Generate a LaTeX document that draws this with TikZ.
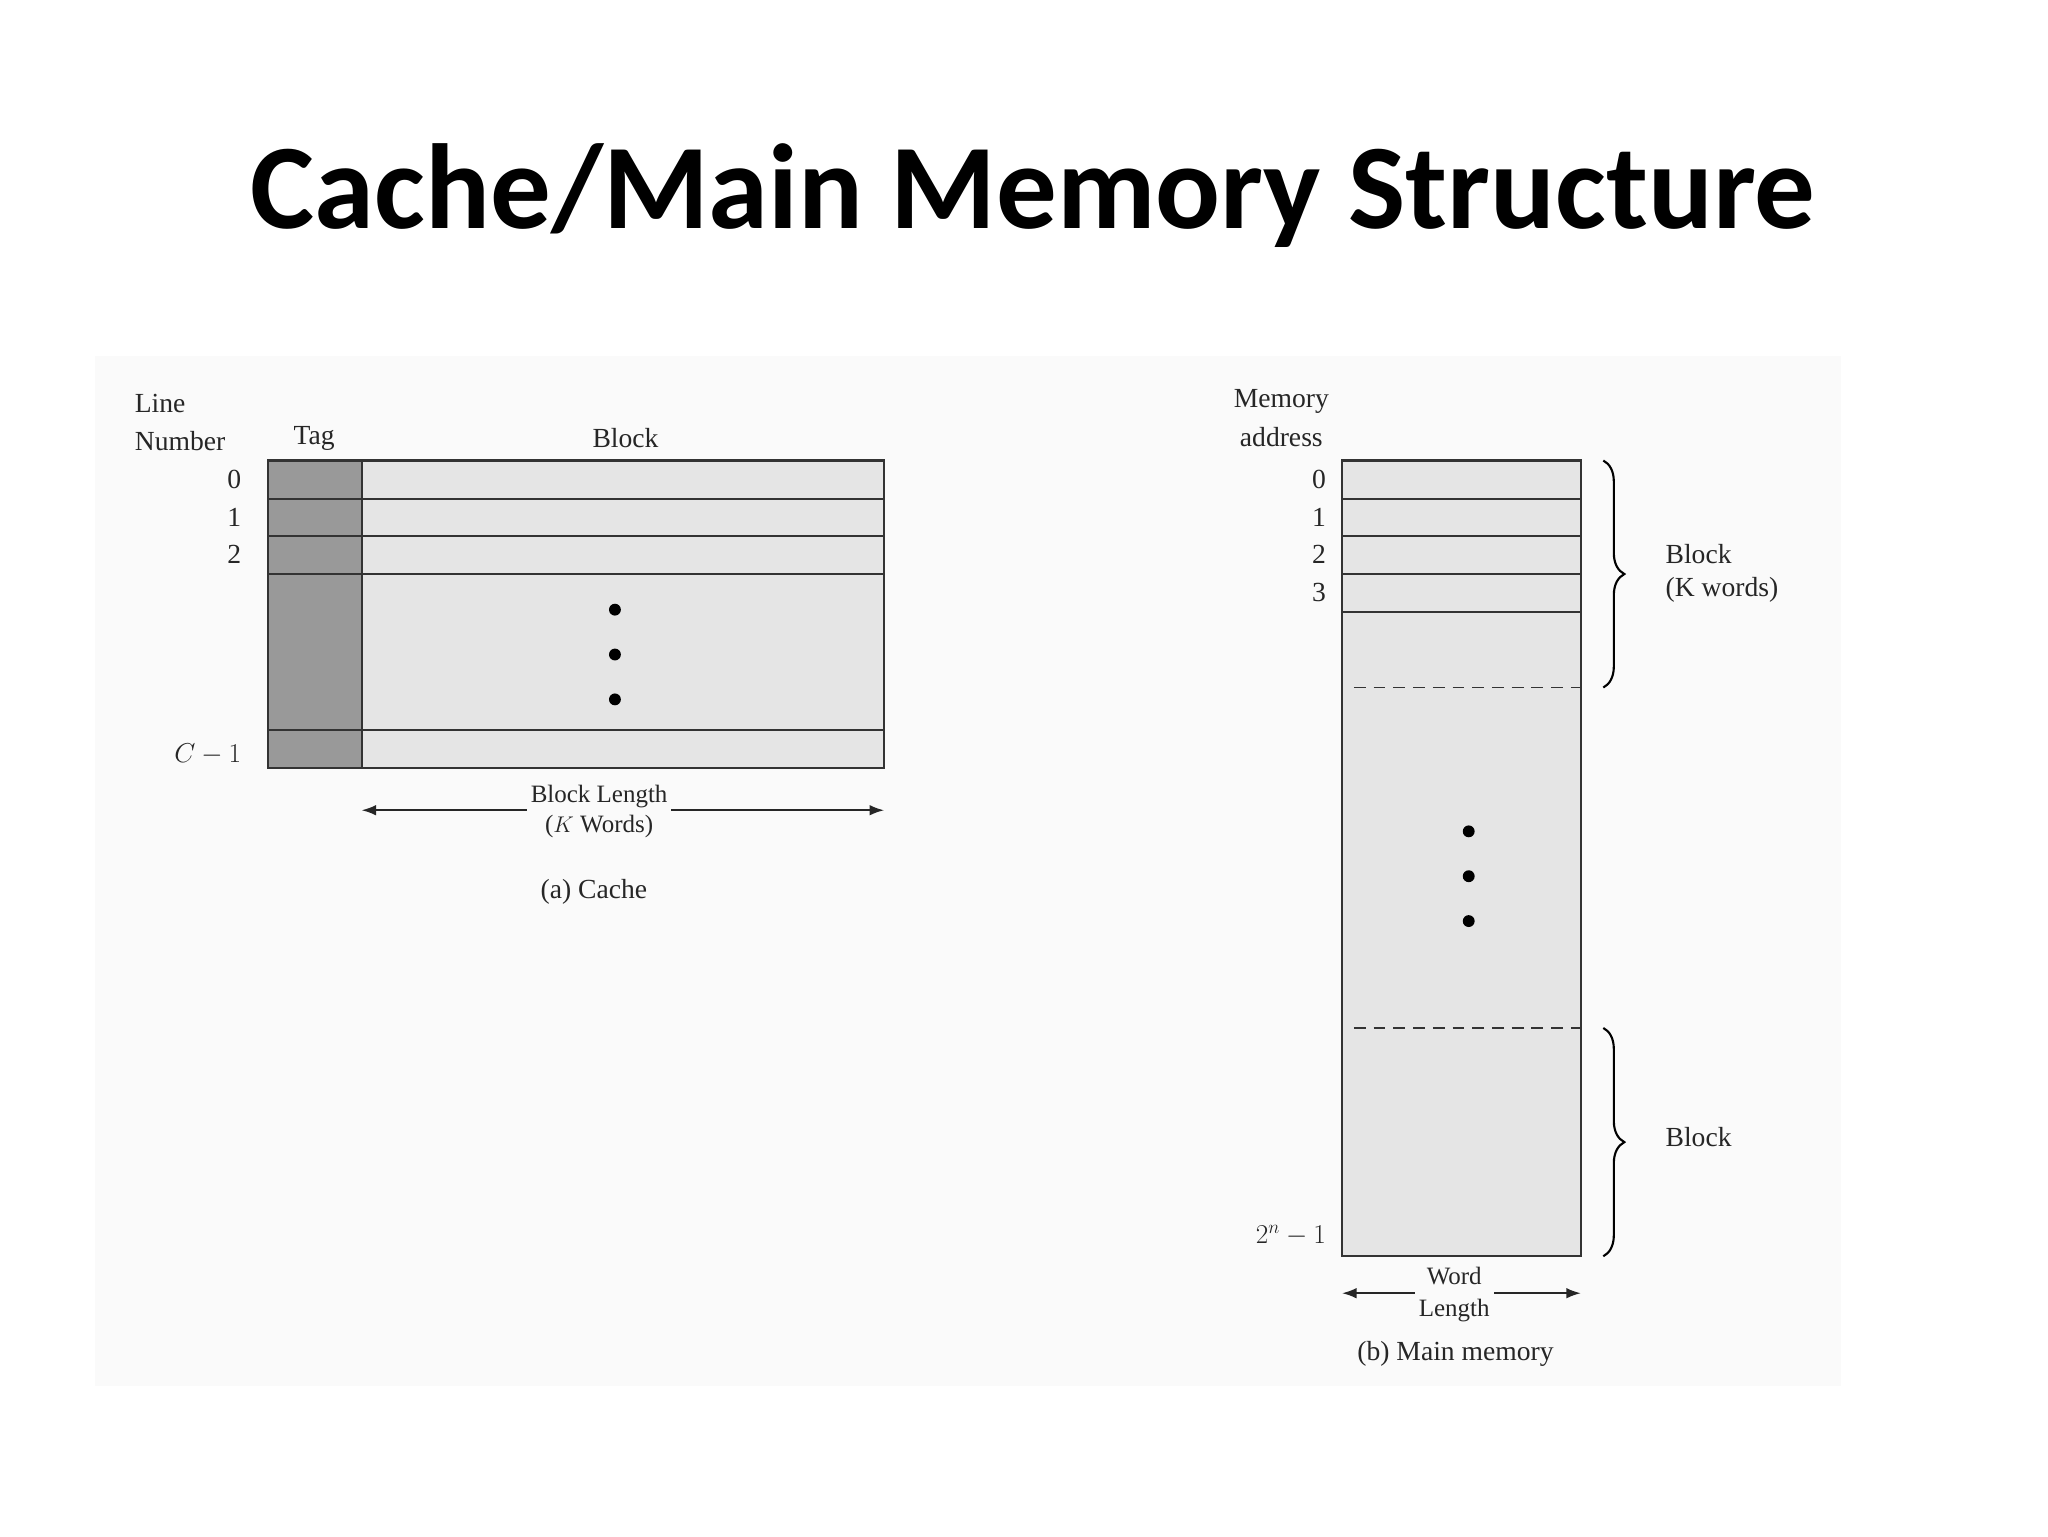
\documentclass[tikz,border=0pt]{standalone}
\usepackage{fontspec}
\setmainfont{Liberation Serif}
\newfontfamily\titlefont{Carlito}
\usetikzlibrary{decorations.pathreplacing,arrows.meta}
\begin{document}
\begin{tikzpicture}[x=1bp,y=-1bp,
  lbl/.style={font=\fontsize{21}{24}\selectfont,inner sep=0pt,text=black!85},
  cell/.style={draw=black!80,line width=1.6pt},
  tagc/.style={cell,fill=black!40},
  blkc/.style={cell,fill=black!10},
  dim/.style={{Latex[length=11pt,width=8pt]}-{Latex[length=11pt,width=8pt]},line width=1.4pt,black!85},
  dots/.style={fill=black,draw=none},
  br/.style={decorate,decoration={brace,amplitude=16pt},line width=1.6pt}]
\useasboundingbox (0,0) rectangle (1552,1164);
\fill[white] (0,0) rectangle (1552,1164);
\fill[black!2] (72,270) rectangle (1395,1050);
\node[font=\titlefont\bfseries\fontsize{92}{100}\selectfont] (title) at (783,148) {Cache/Main Memory Structure};
% cache
\foreach \a/\b in {349/378,378/406,406/435,435/553,553/582}{
  \draw[tagc] (203,\a) rectangle (274,\b);
  \draw[blkc] (274,\a) rectangle (670,\b);}
\foreach \y in {462,496,530}\fill[dots] (466,\y) circle (4.5);
\node[lbl,anchor=west] (ln1) at (102,306) {Line};
\node[lbl,anchor=west] (ln2) at (102,334) {Number};
\node[lbl] (tag) at (238,332) {Tag};
\node[lbl] (blk) at (474,332) {Block};
\node[lbl,anchor=east] (c0) at (183,363) {0};
\node[lbl,anchor=east] (c1) at (183,392) {1};
\node[lbl,anchor=east] (c2) at (183,420) {2};
\node[lbl,anchor=east] (cc) at (183,572) {$C-1$};
\node[lbl,align=center,fill=black!2,inner sep=3pt,font=\fontsize{19}{23}\selectfont] (bl) at (454,615) {Block Length\\($K$ Words)};
\coordinate (bla) at (274,614); \coordinate (blb) at (670,614);
\draw[dim] (bla) -- (blb);
\node[lbl,fill=black!2,inner sep=3pt,align=center,font=\fontsize{19}{23}\selectfont] at (454,615) {Block Length\\($K$ Words)};
\node[lbl] (capa) at (450,676) {(a) Cache};
% main memory
\draw[blkc] (1017,349) rectangle (1198,952);
\foreach \y in {378,406,435,464}\draw[cell] (1017,\y) -- (1198,\y);
\foreach \y in {521,779}\draw[dashed,dash pattern=on 9pt off 6pt,line width=1.4pt,black!80] (1026,\y) -- (1198,\y);
\foreach \y in {630,664,698}\fill[dots] (1113,\y) circle (4.5);
\node[lbl] (ma1) at (971,304) {Memory};
\node[lbl] (ma2) at (971,331) {address};
\node[lbl,anchor=east] (m0) at (1005,363) {0};
\node[lbl,anchor=east] (m1) at (1005,392) {1};
\node[lbl,anchor=east] (m2) at (1005,420) {2};
\node[lbl,anchor=east] (m3) at (1005,449) {3};
\node[lbl,anchor=east] (mn) at (1005,936) {$2^n-1$};
\coordinate (b1a) at (1215,349); \coordinate (b1b) at (1215,521);
\coordinate (b2a) at (1215,779); \coordinate (b2b) at (1215,952);
\draw[br] (b1a) -- (b1b);
\draw[br] (b2a) -- (b2b);
\node[lbl,anchor=west] (bk1) at (1262,420) {Block};
\node[lbl,anchor=west] (bk2) at (1262,447) {(K words)};
\node[lbl,anchor=west] (bk3) at (1262,862) {Block};
\coordinate (wla) at (1017,980); \coordinate (wlb) at (1198,980);
\draw[dim] (wla) -- (wlb);
\node[lbl,fill=black!2,inner sep=3pt,align=center,font=\fontsize{19}{24}\selectfont] (wl) at (1102,981) {Word\\Length};
\node[lbl] (capb) at (1103,1026) {(b) Main memory};
\end{tikzpicture}
\end{document}
